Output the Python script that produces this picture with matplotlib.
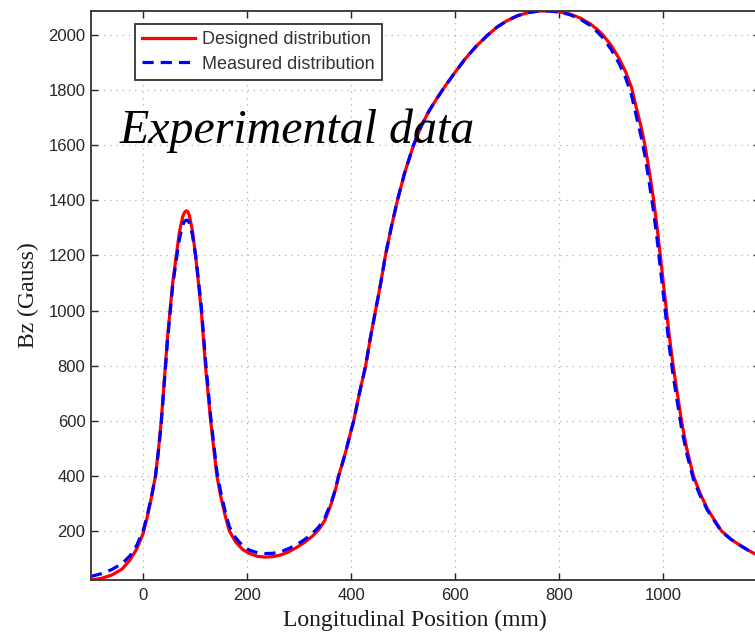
import matplotlib
matplotlib.use("Agg")
import matplotlib.pyplot as plt

# positions (mm) and field values (Gauss)
pos = [-100, -80, -60, -40, -25, -12, 0, 8, 16, 24, 30, 35, 39, 43, 47, 52, 57, 64, 70, 76,
       79, 83, 86, 89, 95, 101, 106, 112, 116, 120, 125, 130, 136, 142, 150, 158, 166, 178, 192, 205,
       220, 235, 250, 265, 280, 295, 310, 325, 338, 350, 362, 370, 376, 384, 390, 398, 405, 416, 428, 437,
       447, 457, 466, 477, 489, 503, 520, 535, 550, 565, 581, 600, 620, 640, 660, 680, 700, 720, 740, 760,
       780, 800, 820, 840, 860, 875, 884, 900, 915, 928, 939, 948, 958, 965, 973, 981, 988, 994, 1000, 1006,
       1012, 1019, 1027, 1035, 1045, 1058, 1070, 1085, 1100, 1112, 1130, 1150, 1168, 1186]

designed = [22, 28, 40, 62, 95, 135, 190, 250, 320, 400, 500, 600, 700, 800, 900, 1000, 1100, 1200, 1285, 1338,
            1354, 1362, 1359, 1345, 1290, 1200, 1110, 1000, 900, 800, 700, 600, 500, 400, 320, 255, 200, 160, 132, 118,
            108, 105, 107, 113, 124, 140, 158, 180, 205, 240, 300, 350, 400, 450, 490, 550, 600, 700, 800, 900,
            1000, 1100, 1200, 1300, 1400, 1500, 1600, 1670, 1725, 1770, 1815, 1865, 1915, 1958, 1995, 2028, 2052, 2070, 2081, 2087,
            2087, 2084, 2076, 2062, 2040, 2017, 2000, 1962, 1915, 1865, 1810, 1738, 1662, 1598, 1508, 1408, 1305, 1205, 1103, 1003,
            903, 800, 700, 600, 500, 400, 340, 280, 235, 200, 170, 145, 125, 108]

measured = [35, 45, 60, 82, 110, 148, 200, 255, 322, 400, 495, 590, 690, 790, 890, 990, 1090, 1185, 1260, 1308,
            1322, 1328, 1327, 1318, 1275, 1200, 1120, 1015, 920, 820, 720, 615, 515, 415, 335, 270, 215, 175, 145, 130,
            121, 118, 119, 125, 136, 150, 168, 190, 215, 250, 305, 352, 400, 450, 490, 550, 600, 700, 800, 900,
            1000, 1100, 1200, 1300, 1400, 1500, 1600, 1670, 1725, 1770, 1815, 1865, 1915, 1958, 1995, 2028, 2052, 2070, 2081, 2087,
            2087, 2083, 2074, 2058, 2034, 2008, 1990, 1947, 1897, 1843, 1782, 1707, 1627, 1560, 1465, 1365, 1262, 1162, 1062, 962,
            864, 765, 668, 575, 482, 388, 332, 275, 232, 198, 170, 145, 125, 108]

xticks = [0, 200, 400, 600, 800, 1000]
yticks = [200, 400, 600, 800, 1000, 1200, 1400, 1600, 1800, 2000]

fig = plt.figure(figsize=(7.55, 6.32), dpi=100)
ax = fig.add_axes([91 / 755, 52 / 632, 669 / 755, 569 / 632])

ax.plot(pos, designed, color=(1, 0, 0), lw=2.3, label="Designed distribution")
ax.plot(pos, measured, color=(0, 0, 1), lw=2.3, dashes=(3.5, 2.2), label="Measured distribution")

ax.set_xlim(-100, 1186)
ax.set_ylim(22, 2087)
ax.set_xticks(xticks)
ax.set_yticks(yticks)

ax.grid(True, color="0.7", linestyle=(0, (1, 4)), linewidth=0.9)
ax.tick_params(direction="in", top=True, right=True, length=5, width=1,
               labelsize=12, colors="0.15")
ax.tick_params(axis="x", pad=6)
ax.tick_params(axis="y", pad=4)
for lab in ax.get_xticklabels() + ax.get_yticklabels():
    lab.set_family("Liberation Sans")
for s in ax.spines.values():
    s.set_color("0.2")
    s.set_linewidth(1.3)

ax.set_xlabel("Longitudinal Position (mm)", family="Liberation Serif", fontsize=17, color="0.1")
ax.set_ylabel("Bz (Gauss)", family="Liberation Serif", fontsize=17, color="0.1")
ax.xaxis.set_label_coords(0.484, -0.053)
ax.yaxis.set_label_coords(-0.078, 0.5)

ax.text(-45, 1608, "Experimental data", family="Liberation Serif", style="italic",
        fontsize=34.5, va="baseline", ha="left")

leg = ax.legend(loc="upper left", bbox_to_anchor=(0.0658, 0.977), borderaxespad=0,
                fancybox=False, handlelength=2.9, handletextpad=0.4,
                prop={"family": "Liberation Sans", "size": 13}, labelspacing=0.4,
                borderpad=0.4, framealpha=1)
leg.get_frame().set_edgecolor("0.2")
leg.get_frame().set_linewidth(1.3)
for t in leg.get_texts():
    t.set_color("0.2")

fig.savefig("out.png", dpi=100)
